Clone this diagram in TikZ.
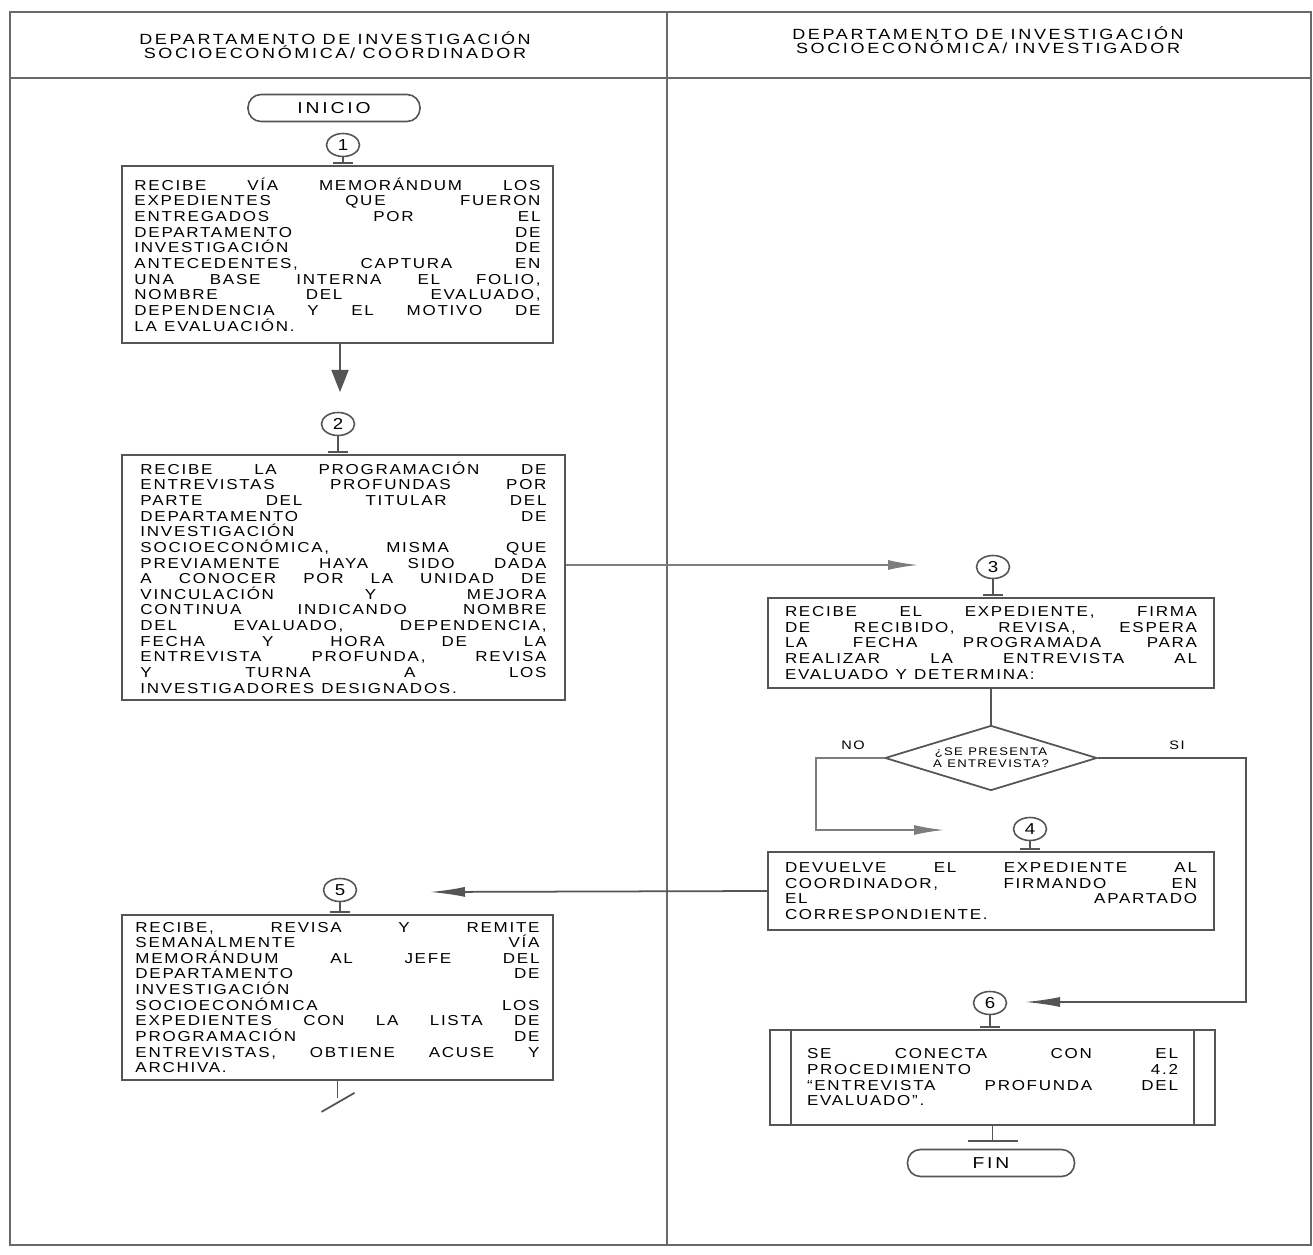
\documentclass[tikz,border=0pt]{standalone}
\usepackage{fontspec}
\setmainfont{Liberation Sans}
\newfontfamily\flowfont[LetterSpace=12, FakeStretch=1.18]{Liberation Sans}
\newfontfamily\headfont[LetterSpace=18, FakeStretch=1.22]{Liberation Sans}
\usetikzlibrary{shapes.geometric,arrows.meta,positioning}
\definecolor{linegray}{RGB}{85,85,85}
\definecolor{framegray}{RGB}{105,105,105}
\definecolor{arrowgray}{RGB}{125,125,125}
% word splitting: justified lines (\jl) and ragged lines (\jr)
\def\jlstop{jlstop}
\def\jlgap{\hskip0.5em\relax}
\def\jlword#1 {#1\jlnext}
\def\jlnext#1{\ifx#1\jlstop\else\jlsep\expandafter\jlword\expandafter#1\fi}
\newcommand{\jl}[1]{\noindent\hbox to\hsize{\let\jlsep\hfill\jlword#1 \jlstop}}
\newcommand{\jr}[1]{\noindent\hbox{\let\jlsep\jlgap\jlword#1 \jlstop}}
\begin{document}
\begin{tikzpicture}[x=0.2mm, y=-0.2mm,
  font=\flowfont\fontsize{8.2pt}{8.9pt}\selectfont,
  procbox/.style={draw=linegray, line width=1pt, inner sep=0pt, align=left},
  endcap/.style={draw=linegray, line width=0.9pt, rounded corners=2.6mm, minimum height=5.4mm, inner sep=0pt},
  stepnum/.style={ellipse, draw=linegray, line width=0.9pt, minimum width=6.6mm, minimum height=4.6mm, inner sep=0pt, font=\flowfont\fontsize{9pt}{9pt}\selectfont},
  stepbar/.style={draw=linegray, line width=1pt},
  flow/.style={draw=linegray, line width=1pt},
  bigtip/.style={flow, -{Triangle[length=4.4mm, width=3.4mm]}},
  darktip/.style={flow, -{Latex[length=7mm, width=2mm]}},
  longtip/.style={draw=arrowgray, line width=1pt, -{Latex[length=6mm, width=2mm]}}
]
\useasboundingbox (0,0) rectangle (1313,1255);

% Frame and lanes
\draw[framegray, line width=1.2pt] (10,12) rectangle (1311,1245);
\draw[framegray, line width=1.2pt] (10,78) -- (1311,78);
\draw[framegray, line width=1.2pt] (667,12) -- (667,1245);

% Lane titles
\node[align=center, font=\headfont\fontsize{8.4pt}{8.3pt}\selectfont] (hleft) at (335,45)
  {\jr{DEPARTAMENTO DE INVESTIGACIÓN}\\\jr{SOCIOECONÓMICA/ COORDINADOR}};
\node[align=center, font=\headfont\fontsize{8.4pt}{8.3pt}\selectfont] (hright) at (988,40)
  {\jr{DEPARTAMENTO DE INVESTIGACIÓN}\\\jr{SOCIOECONÓMICA/ INVESTIGADOR}};

% Start and end
\node[endcap, minimum width=34.4mm, font=\headfont\fontsize{9pt}{9pt}\selectfont] (inicio) at (334,108) {INICIO};
\node[endcap, minimum width=33.4mm, font=\headfont\fontsize{9pt}{9pt}\selectfont] (fin) at (991,1163) {FIN};

% Activities
\node[procbox, text width=81.2mm, minimum width=86.2mm, minimum height=35.4mm] (b1) at (337.5,254.5) {%
\jl{RECIBE VÍA MEMORÁNDUM LOS}\\
\jl{EXPEDIENTES QUE FUERON}\\
\jl{ENTREGADOS POR EL}\\
\jl{DEPARTAMENTO DE}\\
\jl{INVESTIGACIÓN DE}\\
\jl{ANTECEDENTES, CAPTURA EN}\\
\jl{UNA BASE INTERNA EL FOLIO,}\\
\jl{NOMBRE DEL EVALUADO,}\\
\jl{DEPENDENCIA Y EL MOTIVO DE}\\
\jr{LA EVALUACIÓN.}};

\node[procbox, text width=81.2mm, minimum width=88.6mm, minimum height=49mm] (b2) at (343.5,577.5) {%
\jl{RECIBE LA PROGRAMACIÓN DE}\\
\jl{ENTREVISTAS PROFUNDAS POR}\\
\jl{PARTE DEL TITULAR DEL}\\
\jl{DEPARTAMENTO DE}\\
\jr{INVESTIGACIÓN}\\
\jl{SOCIOECONÓMICA, MISMA QUE}\\
\jl{PREVIAMENTE HAYA SIDO DADA}\\
\jl{A CONOCER POR LA UNIDAD DE}\\
\jl{VINCULACIÓN Y MEJORA}\\
\jl{CONTINUA INDICANDO NOMBRE}\\
\jl{DEL EVALUADO, DEPENDENCIA,}\\
\jl{FECHA Y HORA DE LA}\\
\jl{ENTREVISTA PROFUNDA, REVISA}\\
\jl{Y TURNA A LOS}\\
\jr{INVESTIGADORES DESIGNADOS.}};

\node[procbox, text width=82.4mm, minimum width=89.2mm, minimum height=18mm] (b3) at (991,643) {%
\jl{RECIBE EL EXPEDIENTE, FIRMA}\\
\jl{DE RECIBIDO, REVISA, ESPERA}\\
\jl{LA FECHA PROGRAMADA PARA}\\
\jl{REALIZAR LA ENTREVISTA AL}\\
\jr{EVALUADO Y DETERMINA:}};

\node[diamond, aspect=3.26, draw=linegray, line width=1pt, minimum width=42.4mm, minimum height=13mm, inner sep=0pt, align=center,
  font=\flowfont\fontsize{6.3pt}{6.8pt}\selectfont] (d1) at (991,758) {\jr{¿SE PRESENTA}\\\jr{A ENTREVISTA?}};
\node[font=\flowfont\fontsize{7pt}{7pt}\selectfont] (nolabel) at (853,745) {NO};
\node[font=\flowfont\fontsize{7pt}{7pt}\selectfont] (silabel) at (1177,745) {SI};

\node[procbox, text width=82.4mm, minimum width=89.2mm, minimum height=15.6mm] (b4) at (991,891) {%
\jl{DEVUELVE EL EXPEDIENTE AL}\\
\jl{COORDINADOR, FIRMANDO EN}\\
\jl{EL APARTADO}\\
\jr{CORRESPONDIENTE.}};

\node[procbox, text width=80.8mm, minimum width=86.2mm, minimum height=33mm] (b5) at (337.5,997.5) {%
\jl{RECIBE, REVISA Y REMITE}\\
\jl{SEMANALMENTE VÍA}\\
\jl{MEMORÁNDUM AL JEFE DEL}\\
\jl{DEPARTAMENTO DE}\\
\jr{INVESTIGACIÓN}\\
\jl{SOCIOECONÓMICA LOS}\\
\jl{EXPEDIENTES CON LA LISTA DE}\\
\jl{PROGRAMACIÓN DE}\\
\jl{ENTREVISTAS, OBTIENE ACUSE Y}\\
\jr{ARCHIVA.}};

\node[procbox, text width=74.2mm, minimum width=89mm, minimum height=19mm] (b6) at (992.5,1077.5) {%
\jl{SE CONECTA CON EL}\\
\jl{PROCEDIMIENTO 4.2}\\
\jl{“ENTREVISTA PROFUNDA DEL}\\
\jr{EVALUADO”.}};
\draw[flow] ([xshift=4.4mm]b6.north west) -- ([xshift=4.4mm]b6.south west);
\draw[flow] ([xshift=-4.4mm]b6.north east) -- ([xshift=-4.4mm]b6.south east);

% Step numbers with their stems
\foreach \n/\x/\y/\b in {1/343/145/b1, 2/338/424/b2, 3/993/567/b3, 4/1030/829/b4, 5/340/890/b5, 6/990/1003/b6} {
  \node[stepnum] (n\n) at (\x,\y) {\n};
  \draw[stepbar] (n\n.south) -- ([yshift=1.2pt]n\n.south |- \b.north) coordinate (n\n bar);
  \draw[stepbar] ([xshift=-2mm]n\n bar) -- ([xshift=2mm]n\n bar);
}

% Connectors
\coordinate (t12) at (340,392);
\draw[bigtip] (b1.south -| t12) -- (t12);

\coordinate (t23) at (918,565);
\draw[longtip] (b2.east |- t23) -- (t23);

\draw[flow] (b3.south) -- (d1.north);

\coordinate (t4) at (944,830);
\draw[longtip] (d1.west) -- ++(-68,0) |- (t4);

\coordinate (t6) at (1025,1002);
\draw[darktip] (d1.east) -- ++(148,0) |- (t6);

\coordinate (t45) at (430,892);
\draw[darktip] (b4.west) -- (t45);

% End of the left branch
\draw[flow] (b5.south) -- ++(0,17) coordinate (e5);
\draw[flow] ([shift={(-16,14)}]e5) -- ([shift={(17,-5)}]e5);

% End of the right branch
\draw[flow] (b6.south) -- ++(0,15) coordinate (e6);
\draw[flow] ([xshift=-5mm]e6) -- ([xshift=5mm]e6);
\end{tikzpicture}
\end{document}
